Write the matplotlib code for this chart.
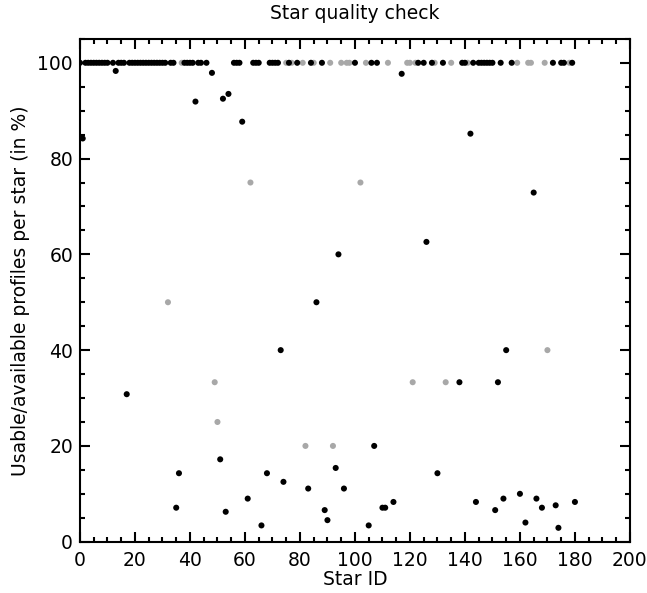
import numpy as np
import matplotlib
matplotlib.use('Agg')
import matplotlib.pyplot as plt
from matplotlib.ticker import MultipleLocator

# stars with all profiles usable (100 %)
top_black = [0, 2, 3, 4, 5, 6, 7, 8, 9, 10, 12, 14, 15, 16, 18, 19, 20,
             21, 22, 23, 24, 25, 26, 27, 28, 29, 30, 31, 33, 34, 38, 39, 40, 41,
             43, 44, 46, 56, 57, 58, 63, 64, 65, 69, 70, 71, 72, 76, 79, 84, 88,
             100, 106, 108, 123, 125, 128, 132, 139, 140, 143, 145, 146, 147,
             148, 149, 150, 153, 157, 172, 175, 176, 179]
top_gray = [37, 75, 77, 81, 85, 91, 95, 97, 98, 104, 112, 119, 120, 122,
            129, 135, 141, 159, 163, 164, 169, 178]

# the rest
low_black_id = [1, 13, 17, 35, 36, 42, 48, 51, 52, 53, 54, 59, 61, 66, 68,
                73, 74, 83, 86, 89, 90, 93, 94, 96, 105, 107, 110, 111, 114,
                117, 126, 130, 138, 142, 144, 151, 152, 154, 155, 160, 162,
                165, 166, 168, 173, 174, 180]
low_black_val = [84.2, 98.3, 30.8, 7.1, 14.3, 91.9, 97.9, 17.2, 92.5, 6.25,
                 93.5, 87.7, 9.0, 3.4, 14.3, 40.0, 12.5, 11.1, 50.0, 6.6, 4.5,
                 15.4, 60.0, 11.1, 3.4, 20.0, 7.1, 7.1, 8.3, 97.7, 62.6, 14.3,
                 33.3, 85.2, 8.3, 6.6, 33.3, 9.0, 40.0, 10.0, 4.0, 72.9, 9.0,
                 7.1, 7.6, 2.9, 8.3]
low_gray_id = [32, 49, 50, 62, 82, 92, 102, 121, 133, 170]
low_gray_val = [50.0, 33.3, 25.0, 75.0, 20.0, 20.0, 75.0, 33.3, 33.3, 40.0]

plt.rcParams['font.family'] = 'DejaVu Sans'
plt.rcParams['font.size'] = 13.5

fig = plt.figure(figsize=(6.47, 5.93), dpi=100)
ax = fig.add_axes([0.1236, 0.0865, 0.85, 0.848])

gray = '#a8a8a8'
ms = 19
ax.scatter(top_gray, [100]*len(top_gray), s=ms, c=gray, edgecolors='none')
ax.scatter(low_gray_id, low_gray_val, s=ms, c=gray, edgecolors='none')
ax.scatter(top_black, [100]*len(top_black), s=ms, c='k', edgecolors='none')
ax.scatter(low_black_id, low_black_val, s=ms, c='k', edgecolors='none')

ax.set_xlim(0, 200)
ax.set_ylim(0, 105)
ax.xaxis.set_major_locator(MultipleLocator(20))
ax.xaxis.set_minor_locator(MultipleLocator(5))
ax.yaxis.set_major_locator(MultipleLocator(20))
ax.yaxis.set_minor_locator(MultipleLocator(5))
ax.tick_params(which='both', direction='in', top=True, right=True, width=1.5)
ax.tick_params(which='major', length=7.5)
ax.tick_params(which='minor', length=3.8)
ax.tick_params(axis='x', pad=7)
ax.tick_params(axis='y', pad=5)
for s in ax.spines.values():
    s.set_linewidth(1.5)

ax.set_xlabel('Star ID', labelpad=0)
ax.set_ylabel('Usable/available profiles per star (in %)', labelpad=5)
ax.set_title('Star quality check', fontsize=13.5, pad=14)

plt.savefig('out.png', dpi=100)
